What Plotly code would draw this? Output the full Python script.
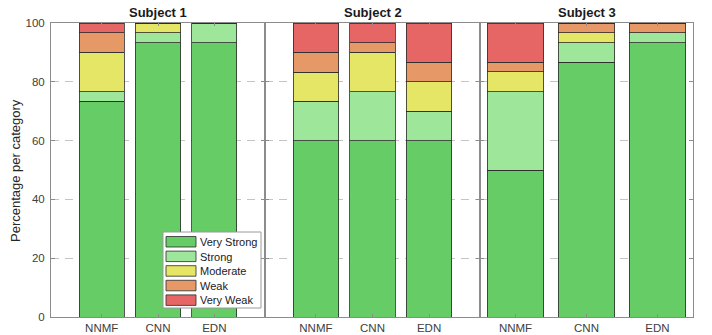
import plotly.graph_objects as go

# Categories and series
methods = ["NNMF", "CNN", "EDN"]
subjects = ["Subject 1", "Subject 2", "Subject 3"]
levels = ["Very Strong", "Strong", "Moderate", "Weak", "Very Weak"]
level_colors = ["#66cc66", "#9ee69a", "#e6e666", "#e69966", "#e66666"]

# Percentage per category, one list per level (NNMF, CNN, EDN)
subject1_very_strong = [73.33, 93.33, 93.33]
subject1_strong = [3.33, 3.33, 6.67]
subject1_moderate = [13.33, 3.33, 0]
subject1_weak = [6.67, 0, 0]
subject1_very_weak = [3.33, 0, 0]

subject2_very_strong = [60, 60, 60]
subject2_strong = [13.33, 16.67, 10]
subject2_moderate = [10, 13.33, 10]
subject2_weak = [6.67, 3.33, 6.67]
subject2_very_weak = [10, 6.67, 13.33]

subject3_very_strong = [50, 86.67, 93.33]
subject3_strong = [26.67, 6.67, 3.33]
subject3_moderate = [6.67, 3.33, 0]
subject3_weak = [3.33, 3.33, 3.33]
subject3_very_weak = [13.33, 0, 0]

y_ticks = [0, 20, 40, 60, 80, 100]

series = [
    [subject1_very_strong, subject1_strong, subject1_moderate, subject1_weak, subject1_very_weak],
    [subject2_very_strong, subject2_strong, subject2_moderate, subject2_weak, subject2_very_weak],
    [subject3_very_strong, subject3_strong, subject3_moderate, subject3_weak, subject3_very_weak],
]

FONT = "Liberation Sans, Arial, Helvetica, sans-serif"
W, H = 712, 335
L, R, T, B = 51, 19, 23, 18
PW, PH = W - L - R, H - T - B


def px(x):
    return (x - L) / PW


def py(y):
    return (H - B - y) / PH


domains = [[0, px(265)], [px(265), px(480)], [px(480), 1]]
x_ranges = [[0.1, 3.9], [0.1, 3.9], [0.5, 3.5]]

fig = go.Figure()
positions = [1, 2, 3]
for s, subj in enumerate(series):
    xa = "x" if s == 0 else f"x{s + 1}"
    ya = "y" if s == 0 else f"y{s + 1}"
    for k, vals in enumerate(subj):
        fig.add_trace(go.Bar(
            x=positions, y=vals, name=levels[k], width=0.8,
            marker=dict(color=level_colors[k], line=dict(color="#2a2a2a", width=0.8)),
            xaxis=xa, yaxis=ya, showlegend=False,
        ))

layout = dict(
    width=W, height=H, margin=dict(l=L, r=R, t=T, b=B, autoexpand=False),
    paper_bgcolor="white", plot_bgcolor="white",
    barmode="stack", showlegend=False,
    font=dict(family=FONT, size=12, color="#262626"),
)
frame = "#8c8c8c"
for s in range(3):
    xkey = "xaxis" if s == 0 else f"xaxis{s + 1}"
    ykey = "yaxis" if s == 0 else f"yaxis{s + 1}"
    layout[xkey] = dict(
        domain=domains[s], range=x_ranges[s], anchor="y" if s == 0 else f"y{s + 1}",
        tickvals=positions, ticktext=methods, ticks="inside", ticklen=3,
        tickcolor=frame, showline=True, linecolor=frame, linewidth=1, mirror="ticks",
        showgrid=False, zeroline=False, fixedrange=True, automargin=False,
        tickfont=dict(size=11.5, color="#404040"),
    )
    layout[ykey] = dict(
        domain=[0, 1], range=[0, 100], anchor="x" if s == 0 else f"x{s + 1}",
        tickvals=y_ticks, ticks="inside", ticklen=4, tickcolor=frame,
        showticklabels=(s == 0), showline=True, linecolor=frame, linewidth=1,
        mirror="ticks", showgrid=True, gridcolor="#c4c4c4", griddash="8px,6px",
        gridwidth=1, zeroline=False, fixedrange=True, automargin=False,
        ticklabelstandoff=3,
        tickfont=dict(size=11.5, color="#404040"),
    )
fig.update_layout(**layout)

annotations = []
shapes = []
# Subject titles
for s, name in enumerate(subjects):
    annotations.append(dict(
        text=f"<b>{name}</b>", xref="paper", yref="paper",
        x=(domains[s][0] + domains[s][1]) / 2, y=py(12.5),
        xanchor="center", yanchor="middle", showarrow=False,
        font=dict(size=13, color="#1a1a1a"),
    ))
# Y-axis title
annotations.append(dict(
    text="Percentage per category", xref="paper", yref="paper",
    x=px(15), y=py(171), textangle=-90, xanchor="center", yanchor="middle",
    showarrow=False, font=dict(size=13, color="#262626"),
))

# Legend box with colour swatches
shapes.append(dict(type="rect", xref="paper", yref="paper",
                   x0=px(163), x1=px(261), y0=py(308), y1=py(232),
                   fillcolor="white", line=dict(color="#9a9a9a", width=1), layer="above"))
for i, (lab, col) in enumerate(zip(levels, level_colors)):
    top = 236.5 + 14.6 * i
    shapes.append(dict(type="rect", xref="paper", yref="paper",
                       x0=px(166), x1=px(196), y0=py(top + 10.5), y1=py(top),
                       fillcolor=col, line=dict(color="#2a2a2a", width=0.8), layer="above"))
    annotations.append(dict(
        text=lab, xref="paper", yref="paper", x=px(197.5), y=py(top + 5.5),
        xanchor="left", yanchor="middle", showarrow=False,
        font=dict(size=11, color="#1a1a1a"),
    ))

fig.update_layout(annotations=annotations, shapes=shapes)
fig.write_html("out.html")
